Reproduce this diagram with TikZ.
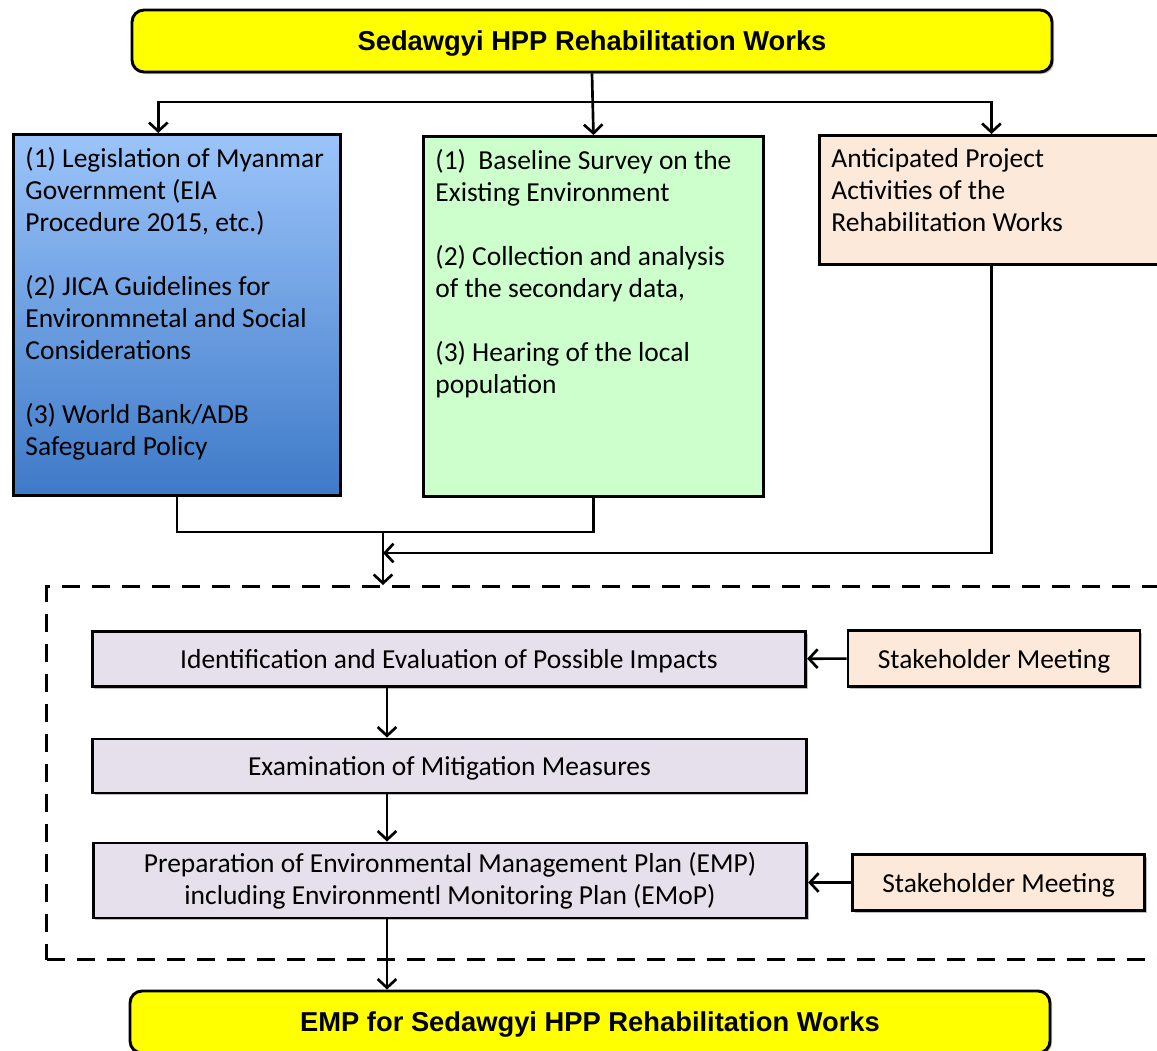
\documentclass[tikz,border=0pt]{standalone}
\usepackage{fontspec}
\setmainfont{Carlito}
\newfontfamily\headfont{Liberation Sans}
\usetikzlibrary{arrows.meta, shadows}

\definecolor{bannerfill}{RGB}{255,255,0}
\definecolor{bluetop}{RGB}{155,196,250}
\definecolor{bluebottom}{RGB}{62,122,200}
\definecolor{surveyfill}{RGB}{204,255,204}
\definecolor{peachfill}{RGB}{253,233,217}
\definecolor{stagefill}{RGB}{229,224,236}

\tikzstyle{boxshadow} = [drop shadow={shadow xshift=1.5pt, shadow yshift=-1.5pt, fill=black, opacity=0.25}]
\tikzstyle{banner} = [rectangle, rounded corners=9pt, minimum width=690pt, minimum height=46.5pt, text depth=0pt, text centered, draw=black, line width=2.2pt, fill=bannerfill, font=\headfont\bfseries\fontsize{20.5}{24}\selectfont, boxshadow]
\tikzstyle{source} = [rectangle, inner xsep=9pt, inner ysep=10pt, draw=black, line width=2.2pt, anchor=north west, font=\fontsize{20.6}{24}\selectfont, boxshadow]
\tikzstyle{stage} = [rectangle, minimum width=535pt, text centered, align=center, draw=black, line width=2.2pt, fill=stagefill, font=\fontsize{20.6}{24}\selectfont, boxshadow]
\tikzstyle{meeting} = [rectangle, minimum width=219pt, minimum height=42pt, text depth=0pt, text centered, draw=black, line width=2.2pt, fill=peachfill, font=\fontsize{20.6}{24}\selectfont, boxshadow]
\tikzstyle{dashframe} = [rectangle, draw=black, line width=2.4pt, dash pattern=on 13.5pt off 9pt, inner sep=0pt, anchor=north west]
\tikzstyle{line} = [line width=2pt]
\tikzstyle{arrow} = [line width=2pt, -{Straight Barb[length=6.5pt,width=14pt]}]

\begin{document}
\begin{tikzpicture}[x=0.75pt, y=-0.75pt]
        \useasboundingbox (0,0) rectangle (1157,1050);

        \node (frame) [dashframe, minimum width=840pt, minimum height=279.75pt] at (45,585) {};

        \node (title) [banner] at (592,41) {Sedawgyi HPP Rehabilitation Works};

        \node (legal) [source, top color=bluetop, bottom color=bluebottom] at (12,133) {\parbox[c][250.75pt][t]{227.25pt}{%
            (1) Legislation of Myanmar\\ Government (EIA\\ Procedure 2015, etc.)\\[24pt]
            (2) JICA Guidelines for\\ Environmnetal and Social\\ Considerations\\[24pt]
            (3) World Bank/ADB\\ Safeguard Policy}};
        \node (survey) [source, fill=surveyfill] at (422,135) {\parbox[c][250pt][t]{237pt}{%
            (1)\ \ Baseline Survey on the\\ Existing Environment\\[24pt]
            (2) Collection and analysis\\ of the secondary data,\\[24pt]
            (3) Hearing of the local\\ population}};
        \node (activities) [source, fill=peachfill] at (818,134) {\parbox[c][76.75pt][t]{240pt}{%
            Anticipated Project\\ Activities of the\\ Rehabilitation Works}};

        \node (impacts) [stage, minimum height=41.25pt, text depth=0pt] at (449,659) {Identification and Evaluation of Possible Impacts};
        \node (mitigation) [stage, minimum height=40.5pt, text depth=0pt] at (449.5,766) {Examination of Mitigation Measures};
        \node (emp) [stage, minimum height=56.25pt] at (450,880.5) {Preparation of Environmental Management Plan (EMP)\\ including Environmentl Monitoring Plan (EMoP)};

        \node (stake1) [meeting] at (994,658.5) {Stakeholder Meeting};
        \node (stake2) [meeting] at (998.5,882.5) {Stakeholder Meeting};

        \node (result) [banner] at (590,1022) {EMP for Sedawgyi HPP Rehabilitation Works};

        % top split
        \coordinate (split) at (592,102);
        \draw [arrow] (title.south) -- (survey.north);
        \draw [arrow] (split) -| ([xshift=-14pt]legal.north);
        \draw [arrow] (split) -| (activities.north);

        % merge into the frame
        \coordinate (merge) at (383,532);
        \coordinate (join) at (383,553);
        \draw [line] (legal.south) |- (merge) -| (survey.south);
        \draw [arrow] (merge) -- (merge |- frame.north);
        \draw [arrow] (activities.south) |- (join);

        % inside the frame
        \coordinate (col) at (387,0);
        \draw [arrow] (impacts.south -| col) -- (mitigation.north -| col);
        \draw [arrow] (mitigation.south -| col) -- (emp.north -| col);
        \draw [arrow] (emp.south -| col) -- (result.north -| col);
        \draw [arrow] (stake1) -- (impacts);
        \draw [arrow] (stake2.west) -- (stake2.west -| emp.east);
\end{tikzpicture}
\end{document}
